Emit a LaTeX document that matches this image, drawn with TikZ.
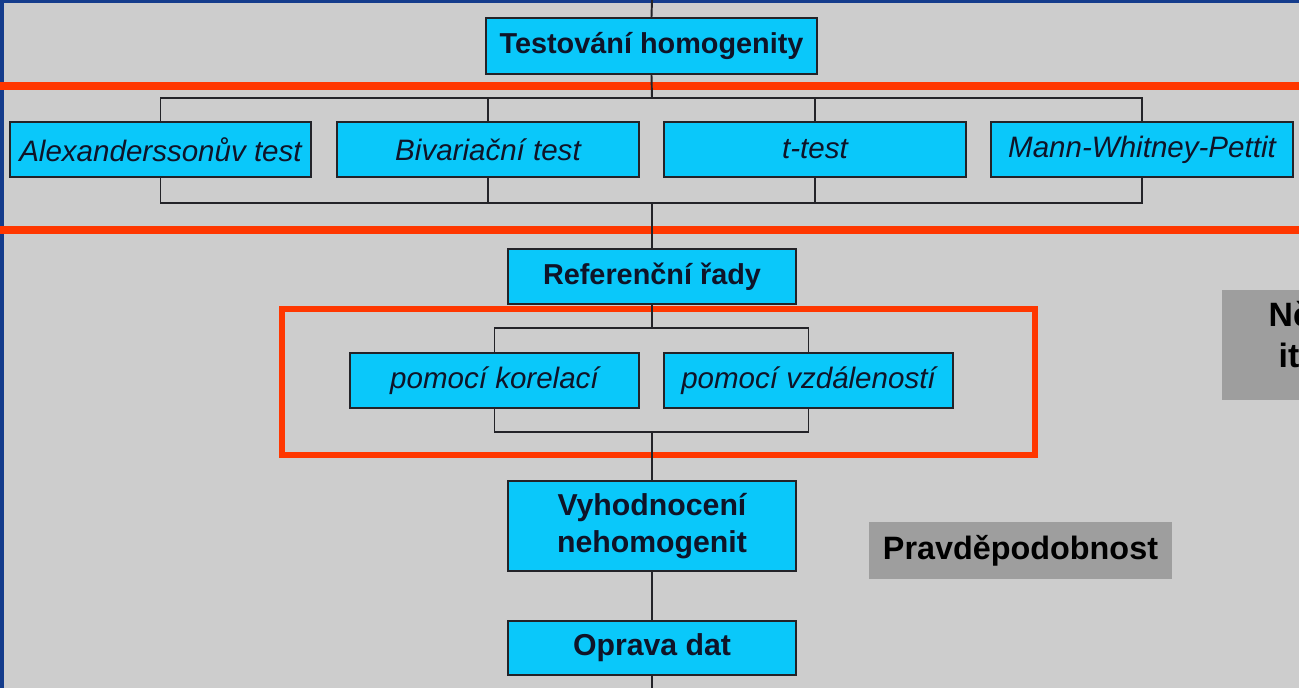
\documentclass[tikz,border=0pt]{standalone}
\usepackage{fontspec}
\setmainfont{Liberation Sans}
\begin{document}
\begin{tikzpicture}[x=0.01cm,y=-0.01cm,
  cbox/.style={draw=boxline, line width=0.55pt, fill=cyanbox, inner sep=0pt, text=textdark, align=center},
  bbox/.style={cbox, font=\fontsize{8.2}{10.5}\selectfont\bfseries},
  ibox/.style={cbox, font=\fontsize{8.4}{10}\selectfont\itshape},
  gbox/.style={fill=graybox, inner sep=0pt, text=black, font=\fontsize{9.2}{11}\selectfont\bfseries},
  conn/.style={draw=boxline, line width=0.55pt},
  redline/.style={draw=redc, line width=2pt},
  ]
\definecolor{bggray}{RGB}{205,205,205}
\definecolor{cyanbox}{RGB}{10,200,250}
\definecolor{boxline}{RGB}{35,35,40}
\definecolor{textdark}{RGB}{15,20,40}
\definecolor{redc}{RGB}{255,55,0}
\definecolor{graybox}{RGB}{158,158,158}
\definecolor{framec}{RGB}{20,60,140}
\useasboundingbox (0,0) rectangle (1299,688);
\fill[bggray] (0,0) rectangle (1299,688);
\draw[framec, line width=1.1pt] (2,688) -- (2,1.5) -- (1299,1.5);

% nodes
\node[bbox, minimum width=3.31cm, minimum height=0.56cm] (test) at (651.5,46) {Testování homogenity};
\node[ibox, minimum width=3.01cm, minimum height=0.55cm] (alex) at (160.5,149.5) {Alexanderssonův test};
\node[ibox, minimum width=3.02cm, minimum height=0.55cm] (biv) at (488,149.5) {Bivariační test};
\node[ibox, minimum width=3.02cm, minimum height=0.55cm] (ttest) at (815,149.5) {t-test};
\node[ibox, minimum width=3.02cm, minimum height=0.55cm] (mann) at (1142,149.5) {Mann-Whitney-Pettit};
\node[bbox, minimum width=2.88cm, minimum height=0.55cm] (ref) at (652,276.5) {Referenční řady};
\node[ibox, minimum width=2.89cm, minimum height=0.55cm] (kor) at (494.5,380.5) {pomocí korelací};
\node[ibox, minimum width=2.89cm, minimum height=0.55cm] (vzd) at (808.5,380.5) {pomocí vzdáleností};
\node[bbox, minimum width=2.88cm, minimum height=0.90cm, font=\fontsize{8.6}{10.6}\selectfont\bfseries] (vyh) at (652,526) {Vyhodnocení\\nehomogenit};
\node[bbox, minimum width=2.88cm, minimum height=0.54cm, font=\fontsize{8.6}{10.5}\selectfont\bfseries] (opr) at (652,648) {Oprava dat};
\node[gbox, minimum width=3.03cm, minimum height=0.57cm] (prav) at (1020.5,550.5) {Pravděpodobnost};
\fill[graybox] (1222,290) rectangle (1310,400);
\node[anchor=west, inner sep=0pt, font=\fontsize{9.6}{11}\selectfont\bfseries] (ne) at (1268,314) {Ně};
\node[anchor=west, inner sep=0pt, font=\fontsize{9.6}{11}\selectfont\bfseries] (it) at (1278,355) {it};

% red markers
\coordinate (rl1a) at (0,86); \coordinate (rl1b) at (1299,86);
\coordinate (rl2a) at (0,230); \coordinate (rl2b) at (1299,230);
\draw[redline] (rl1a) -- (rl1b);
\draw[redline] (rl2a) -- (rl2b);
\coordinate (rra) at (282,309); \coordinate (rrb) at (1035,455);
\draw[redc, line width=1.8pt] (rra) rectangle (rrb);

% connectors
\coordinate (top) at (652,0);
\coordinate (tb) at (652,98);
\coordinate (bb) at (652,203);
\coordinate (rb) at (652,328);
\coordinate (rb2) at (652,432);
\coordinate (bot) at (652,688);
\draw[conn] (top) -- (test.north);
\draw[conn] (test.south) -- (tb);
\draw[conn] (alex.north) |- (tb) -| (mann.north);
\draw[conn] (biv.north) -- (biv.north |- tb);
\draw[conn] (ttest.north) -- (ttest.north |- tb);
\draw[conn] (alex.south) |- (bb) -| (mann.south);
\draw[conn] (biv.south) -- (biv.south |- bb);
\draw[conn] (ttest.south) -- (ttest.south |- bb);
\draw[conn] (bb) -- (ref.north);
\draw[conn] (ref.south) -- (rb);
\draw[conn] (kor.north) |- (rb) -| (vzd.north);
\draw[conn] (kor.south) |- (rb2) -| (vzd.south);
\draw[conn] (rb2) -- (vyh.north);
\draw[conn] (vyh.south) -- (opr.north);
\draw[conn] (opr.south) -- (bot);
\end{tikzpicture}
\end{document}
